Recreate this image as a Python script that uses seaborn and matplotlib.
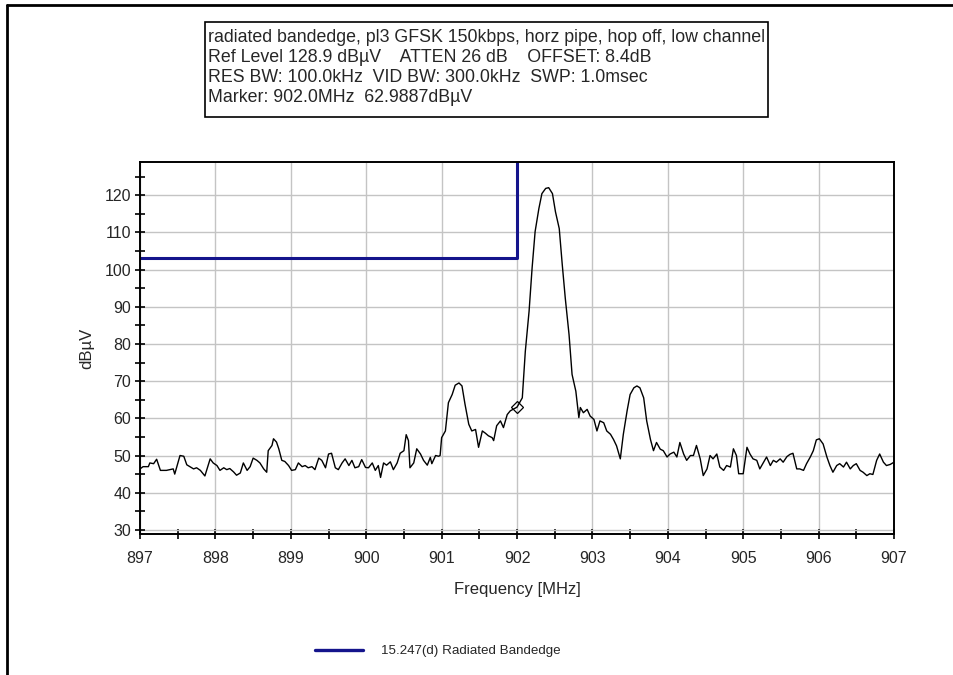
import numpy as np
import pandas as pd
import seaborn as sns
import matplotlib.pyplot as plt
from matplotlib.lines import Line2D
from matplotlib.patches import Rectangle
from matplotlib.ticker import MultipleLocator

# trace (MHz, dBuV)
freq = [897.00, 897.04, 897.11, 897.13, 897.18, 897.22, 897.27, 897.35, 897.44, 897.46,
        897.53, 897.58, 897.62, 897.66, 897.71, 897.75, 897.80, 897.86, 897.93, 897.97,
        898.02, 898.06, 898.11, 898.15, 898.19, 898.24, 898.28, 898.33, 898.37, 898.42,
        898.46, 898.50, 898.55, 898.59, 898.64, 898.68, 898.70, 898.75, 898.77, 898.81,
        898.84, 898.88, 898.92, 898.97, 899.01, 899.06, 899.10, 899.15, 899.19, 899.23,
        899.28, 899.32, 899.37, 899.41, 899.46, 899.50, 899.54, 899.59, 899.63, 899.68,
        899.72, 899.77, 899.81, 899.85, 899.90, 899.94, 899.99, 900.03, 900.08, 900.12,
        900.16, 900.19, 900.23, 900.27, 900.32, 900.36, 900.41, 900.45, 900.50, 900.53,
        900.56, 900.58, 900.63, 900.67, 900.72, 900.76, 900.81, 900.85, 900.87, 900.92,
        900.96, 900.98, 901.00, 901.05, 901.09, 901.14, 901.18, 901.23, 901.27, 901.31,
        901.36, 901.40, 901.45, 901.49, 901.54, 901.58, 901.62, 901.67, 901.69, 901.73,
        901.78, 901.82, 901.87, 901.91, 902.00, 902.07, 902.11, 902.16, 902.20, 902.24,
        902.29, 902.33, 902.38, 902.42, 902.47, 902.51, 902.56, 902.60, 902.64, 902.69,
        902.73, 902.78, 902.82, 902.84, 902.88, 902.93, 902.97, 903.02, 903.06, 903.10,
        903.15, 903.19, 903.24, 903.28, 903.32, 903.37, 903.41, 903.46, 903.50, 903.55,
        903.59, 903.63, 903.68, 903.72, 903.77, 903.81, 903.85, 903.90, 903.94, 903.99,
        904.03, 904.08, 904.12, 904.16, 904.21, 904.25, 904.30, 904.34, 904.38, 904.43,
        904.47, 904.52, 904.56, 904.60, 904.65, 904.69, 904.74, 904.78, 904.83, 904.87,
        904.91, 904.94, 905.00, 905.05, 905.09, 905.13, 905.18, 905.22, 905.27, 905.31,
        905.36, 905.40, 905.44, 905.49, 905.53, 905.58, 905.62, 905.66, 905.71, 905.75,
        905.80, 905.84, 905.89, 905.93, 905.97, 906.01, 906.06, 906.11, 906.15, 906.19,
        906.24, 906.28, 906.33, 906.37, 906.42, 906.46, 906.50, 906.55, 906.59, 906.64,
        906.68, 906.72, 906.77, 906.81, 906.86, 906.90, 906.95, 907.00]
level = [46.4, 47.0, 47.0, 48.0, 47.8, 49.0, 46.0, 46.0, 46.4, 45.0,
         50.0, 49.8, 47.5, 47.0, 46.4, 46.7, 46.0, 44.5, 49.1, 48.0,
         47.3, 46.0, 46.7, 46.2, 46.5, 45.6, 44.7, 45.3, 48.0, 46.0,
         47.0, 49.3, 48.7, 48.0, 46.4, 45.5, 51.3, 52.7, 54.5, 53.6,
         51.8, 48.7, 48.4, 47.3, 46.0, 46.2, 48.0, 47.0, 47.3, 46.7,
         47.0, 46.2, 49.3, 48.7, 46.7, 50.4, 50.6, 46.7, 46.2, 48.0,
         49.1, 47.3, 48.7, 46.7, 47.0, 48.9, 46.8, 46.7, 48.0, 46.0,
         47.3, 44.1, 48.0, 47.4, 48.3, 46.2, 48.0, 50.6, 51.3, 55.6,
         54.0, 46.7, 48.0, 51.8, 50.4, 48.7, 47.4, 49.5, 47.8, 50.0,
         49.8, 50.0, 54.8, 56.6, 64.2, 66.4, 68.9, 69.5, 68.7, 63.8,
         58.4, 56.6, 57.0, 52.2, 56.6, 56.0, 55.3, 54.8, 54.0, 58.0,
         59.3, 57.5, 61.0, 62.0, 63.0, 65.5, 78.0, 88.8, 100.4, 110.2,
         116.4, 120.4, 121.8, 122.0, 120.4, 115.5, 111.0, 101.3, 92.3, 82.5,
         71.8, 67.3, 60.2, 62.9, 61.5, 62.4, 60.6, 59.7, 56.6, 59.3,
         58.8, 56.6, 55.7, 54.3, 52.6, 49.1, 55.7, 62.0, 66.4, 68.2,
         68.7, 68.2, 65.5, 59.3, 54.3, 51.3, 53.5, 51.7, 51.3, 49.6,
         50.4, 50.9, 49.6, 53.5, 50.4, 48.7, 50.0, 50.0, 52.7, 49.1,
         44.6, 46.4, 50.0, 49.1, 50.4, 46.9, 46.0, 47.3, 46.9, 51.8,
         50.0, 45.1, 45.1, 52.2, 50.4, 49.1, 48.7, 46.4, 48.2, 49.6,
         47.3, 48.7, 48.2, 49.1, 48.2, 49.7, 50.3, 50.6, 46.4, 46.4,
         46.0, 47.8, 49.6, 51.3, 54.2, 54.5, 53.1, 49.6, 47.3, 45.5,
         47.3, 47.8, 46.9, 48.2, 46.4, 47.3, 47.8, 46.0, 45.5, 44.6,
         45.1, 44.9, 48.7, 50.4, 48.2, 47.3, 47.6, 48.2]

limit_freq = [897.0, 902.0, 902.0]
limit_level = [103.0, 103.0, 128.9]
marker_freq = [902.0]
marker_level = [62.9887]

info_lines = ["radiated bandedge, pl3 GFSK 150kbps, horz pipe, hop off, low channel",
              "Ref Level 128.9 dB\u00b5V    ATTEN 26 dB    OFFSET: 8.4dB",
              "RES BW: 100.0kHz  VID BW: 300.0kHz  SWP: 1.0msec",
              "Marker: 902.0MHz  62.9887dB\u00b5V"]

sns.set_style("white")
plt.rcParams['font.family'] = ['Liberation Sans', 'DejaVu Sans']

trace = pd.DataFrame({"freq": freq, "level": level})
limit = pd.DataFrame({"freq": limit_freq, "level": limit_level})

fig = plt.figure(figsize=(9.54, 6.75), dpi=100)
ax = fig.add_axes([0.1468, 0.2089, 0.7903, 0.5511])

sns.lineplot(data=trace, x="freq", y="level", color="black", lw=1.0,
             estimator=None, sort=False, ax=ax)
sns.lineplot(data=limit, x="freq", y="level", color="#14148c", lw=2.2,
             estimator=None, sort=False, ax=ax, label="15.247(d) Radiated Bandedge")
ax.plot(marker_freq, marker_level, marker="D", ms=6.5, mfc="none", mec="black", mew=0.9, ls="none")

ax.set_xlim(897, 907)
ax.set_ylim(28.9, 128.9)
ax.xaxis.set_major_locator(MultipleLocator(1))
ax.xaxis.set_minor_locator(MultipleLocator(0.5))
ax.yaxis.set_major_locator(MultipleLocator(10))
ax.yaxis.set_minor_locator(MultipleLocator(5))
ax.set_yticks(np.arange(30, 121, 10))
ax.tick_params(which="both", direction="inout", length=7, width=1.2, color="black",
               labelsize=11.5, left=True, bottom=True)
ax.tick_params(axis="x", pad=9)
ax.tick_params(axis="y", pad=3)
ax.grid(True, which="major", color="#c4c4c4", lw=1)
for s in ax.spines.values():
    s.set_color("black")
    s.set_linewidth(1.4)

ax.set_xlabel("Frequency [MHz]", fontsize=12, labelpad=11)
ax.set_ylabel("dB\u00b5V", fontsize=12, labelpad=7)

ax.get_legend().remove()
handles = [Line2D([], [], color="#14148c", lw=2.4)]
fig.legend(handles, ["15.247(d) Radiated Bandedge"], loc="center",
           bbox_to_anchor=(0.459, 1 - 651 / 675), frameon=False,
           handlelength=3.6, handletextpad=1.3, fontsize=9.6)

# info box above the plot
fig.add_artist(Rectangle((205 / 954, 1 - 117 / 675), 563 / 954, 95 / 675,
                         transform=fig.transFigure, fill=False, ec="black", lw=1.2))
for i, line in enumerate(info_lines):
    fig.text(208 / 954, 1 - (38 + 20 * i) / 675, line, fontsize=12.75,
             va="center", ha="left")

# outer window frame
fig.add_artist(Line2D([7 / 954, 1], [1 - 5 / 675, 1 - 5 / 675], color="black",
                      lw=2, transform=fig.transFigure))
fig.add_artist(Line2D([7 / 954, 7 / 954], [0, 1 - 5 / 675], color="black",
                      lw=2, transform=fig.transFigure))

fig.savefig("out.png", dpi=100)
